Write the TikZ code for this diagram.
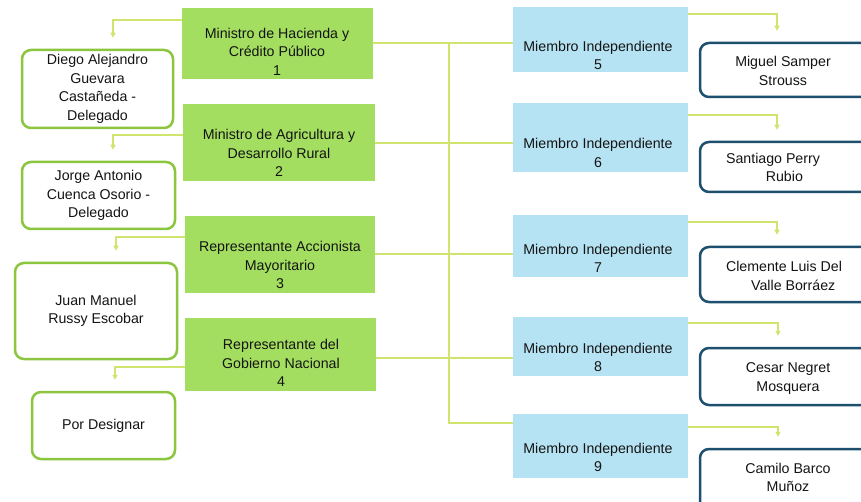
\documentclass[tikz,border=0pt]{standalone}
\usepackage{fontspec}
\setmainfont{Liberation Sans}
\usetikzlibrary{arrows.meta}
\definecolor{gfill}{HTML}{A3DE60}
\definecolor{bfill}{HTML}{B6E3F3}
\definecolor{gline}{HTML}{8CC63F}
\definecolor{bline}{HTML}{1D4F6E}
\definecolor{conn}{HTML}{CFE56E}
\definecolor{tcol}{HTML}{141414}
\begin{document}
\begin{tikzpicture}[x=1pt,y=-1pt,
  every node/.style={font=\fontsize{14.2}{18.5}\selectfont, text=tcol},
  gbox/.style={rectangle, fill=gfill, draw=none, inner sep=0pt},
  bbox/.style={rectangle, fill=bfill, draw=none, inner sep=0pt},
  wgbox/.style={rectangle, rounded corners=9pt, fill=white, draw=gline, line width=2.5pt, inner sep=0pt, align=center},
  wbbox/.style={rectangle, rounded corners=9pt, fill=white, draw=bline, line width=2.5pt, inner sep=0pt},
  lbl/.style={align=center, inner sep=0pt},
  link/.style={draw=conn, line width=1.2pt},
  arr/.style={link, -{Triangle[length=5pt,width=5pt]}, shorten >=11pt}
]
\useasboundingbox (0,0) rectangle (861,502);
\fill[white] (0,0) rectangle (861,502);

% green boxes
\node[gbox, minimum width=191pt, minimum height=71pt] (g1) at (277.5,43.5) {};
\node[gbox, minimum width=192pt, minimum height=77pt] (g2) at (279,142.5) {};
\node[gbox, minimum width=190pt, minimum height=77pt] (g3) at (280,254.5) {};
\node[gbox, minimum width=191pt, minimum height=73pt] (g4) at (280.5,354.5) {};
\node[lbl] (g1t) at (277,51.5) {Ministro de Hacienda y\\Crédito Público\\1};
\node[lbl] (g2t) at (279,153) {Ministro de Agricultura y\\Desarrollo Rural\\2};
\node[lbl] (g3t) at (280,265) {Representante Accionista\\Mayoritario\\3};
\node[lbl] (g4t) at (281,363) {Representante del\\Gobierno Nacional\\4};

% blue boxes
\node[bbox, minimum width=175pt, minimum height=65pt] (b5) at (600.5,39.5) {};
\node[bbox, minimum width=175pt, minimum height=69pt] (b6) at (600.5,137.5) {};
\node[bbox, minimum width=175pt, minimum height=62pt] (b7) at (600.5,246) {};
\node[bbox, minimum width=175pt, minimum height=59pt] (b8) at (600.5,346.5) {};
\node[bbox, minimum width=175pt, minimum height=64pt] (b9) at (600.5,446) {};
\node[lbl] (b5t) at (598,55.5) {Miembro Independiente\\5};
\node[lbl] (b6t) at (598,153) {Miembro Independiente\\6};
\node[lbl] (b7t) at (598,258.5) {Miembro Independiente\\7};
\node[lbl] (b8t) at (598,357.5) {Miembro Independiente\\8};
\node[lbl] (b9t) at (598,457.5) {Miembro Independiente\\9};

% left white boxes
\node[wgbox, minimum width=151pt, minimum height=78pt] (w1) at (97.5,89) {Diego Alejandro\\Guevara\\Castañeda -\\Delegado};
\node[wgbox, minimum width=153pt, minimum height=67pt] (w2) at (98.5,195.5) {Jorge Antonio\\Cuenca Osorio -\\Delegado};
\node[wgbox, minimum width=162pt, minimum height=96pt] (w3) at (96,311) {Juan Manuel\\Russy Escobar};
\node[wgbox, minimum width=143pt, minimum height=67pt] (w4) at (103.5,425.5) {Por Designar};

% right white boxes
\node[wbbox, minimum width=180pt, minimum height=54pt] (r5) at (790,70) {};
\node[wbbox, minimum width=180pt, minimum height=50pt] (r6) at (790,167) {};
\node[wbbox, minimum width=180pt, minimum height=55pt] (r7) at (790,274.5) {};
\node[wbbox, minimum width=180pt, minimum height=57pt] (r8) at (790,376.5) {};
\node[wbbox, minimum width=180pt, minimum height=66pt] (r9) at (790,482) {};
\node[lbl] (r5t) at (783,71) {Miguel Samper\\Strouss};
\node[lbl] (r6t) at (773,167.5) {Santiago Perry\\\hspace*{1.6em}Rubio};
\node[lbl] (r7t) at (784,276) {Clemente Luis Del\\\hspace*{1.3em}Valle Borráez};
\node[lbl] (r8t) at (788,378.5) {Cesar Negret\\Mosquera};
\node[lbl] (r9t) at (788,477.5) {Camilo Barco\\Muñoz};

% central bus
\coordinate (bustop) at (449,43);
\coordinate (busbot) at (449,423);
\draw[link] (g1.east |- 0,43) -- (b5.west |- 0,43);
\draw[link] (g2.east |- 0,143) -- (b6.west |- 0,143);
\draw[link] (g3.east |- 0,254) -- (b7.west |- 0,254);
\draw[link] (g4.east |- 0,358) -- (b8.west |- 0,358);
\draw[link] (bustop) -- (busbot) -- (b9.west |- busbot);

% left arrows
\draw[arr] (g1.west |- 0,20) -| (113,0 |- w1.north);
\draw[arr] (g2.west |- 0,135) -| (113,0 |- w2.north);
\draw[arr] (g3.west |- 0,237) -| (116,0 |- w3.north);
\draw[arr] (g4.west |- 0,367) -| (115,0 |- w4.north);

% right arrows
\draw[arr] (b5.east |- 0,14) -| (777,0 |- r5.north);
\draw[arr] (b6.east |- 0,115) -| (777,0 |- r6.north);
\draw[arr] (b7.east |- 0,222) -| (777,0 |- r7.north);
\draw[arr] (b8.east |- 0,323) -| (778,0 |- r8.north);
\draw[arr] (b9.east |- 0,427) -| (778,0 |- r9.north);
\end{tikzpicture}
\end{document}
